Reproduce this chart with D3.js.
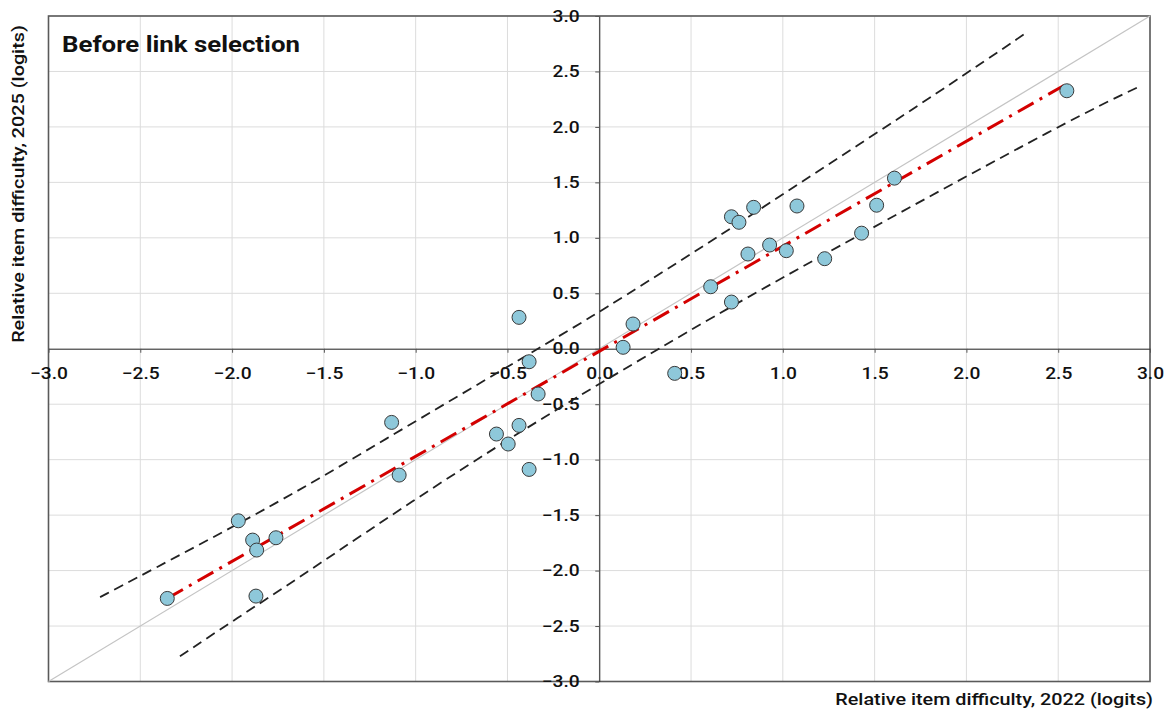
<!DOCTYPE html>
<html>
<head>
<meta charset="utf-8">
<script src="https://cdn.jsdelivr.net/npm/d3@7"></script>
<style>
  html, body { margin: 0; padding: 0; background: #fff; }
  svg { display: block; font-family: Roboto, "Noto Sans", sans-serif; }
</style>
</head>
<body>
<svg id="chart" width="1172" height="715"></svg>
<script>
// Relative item difficulty of link items, 2022 vs 2025 (logits)
const x2022 = [-2.353, -1.966, -1.888, -1.866, -1.761, -1.870, -1.131, -1.090,
  -0.560, -0.496, -0.437, -0.437, -0.382, -0.382, -0.333, 0.130, 0.184, 0.411,
  0.607, 0.720, 0.720, 0.761, 0.810, 0.841, 0.928, 1.019, 1.077, 1.228, 1.429,
  1.511, 1.608, 2.547];
const y2025 = [-2.251, -1.551, -1.725, -1.815, -1.704, -2.230, -0.664, -1.139,
  -0.769, -0.859, -0.691, 0.283, -0.117, -1.088, -0.408, 0.013, 0.223, -0.222,
  0.559, 0.421, 1.190, 1.140, 0.854, 1.275, 0.935, 0.884, 1.287, 0.812, 1.042,
  1.294, 1.538, 2.326];

// Fitted trend line (end points)
const fitX = [-2.353, 2.547];
const fitY = [-2.251, 2.389];

// Upper and lower confidence bands
const upperX = [-2.719, -2.501, -1.721, -1.249, -0.224, 0.003, 0.493, 1.037, 1.908, 2.322];
const upperY = [-2.239, -2.050, -1.364, -0.898, 0.108, 0.334, 0.845, 1.431, 2.378, 2.844];
const lowerX = [-2.284, -1.975, -1.640, -0.905, -0.224, 0.021, 0.602, 1.364, 2.579, 2.933];
const lowerY = [-2.773, -2.431, -2.070, -1.244, -0.537, -0.298, 0.274, 0.980, 2.078, 2.357];

// Identity line and tick values
const identity = [-3, 3];
const tickValues = [-3.0, -2.5, -2.0, -1.5, -1.0, -0.5, 0.0, 0.5, 1.0, 1.5, 2.0, 2.5, 3.0];

const title = "Before link selection";
const xTitle = "Relative item difficulty, 2022 (logits)";
const yTitle = "Relative item difficulty, 2025 (logits)";

const svg = d3.select("#chart");
const plotLeft = 48.5, plotRight = 1150, plotTop = 16, plotBottom = 681.5;
const x = d3.scaleLinear().domain([-3, 3]).range([plotLeft, plotRight]);
const y = d3.scaleLinear().domain([-3, 3]).range([plotBottom, plotTop]);
const stretch = 1.2;

// grid
const grid = svg.append("g").attr("stroke", "#dcdcdc").attr("stroke-width", 1);
grid.selectAll(".gx").data(tickValues).join("line").attr("class", "gx")
  .attr("x1", d => x(d)).attr("x2", d => x(d)).attr("y1", plotTop).attr("y2", plotBottom);
grid.selectAll(".gy").data(tickValues).join("line").attr("class", "gy")
  .attr("y1", d => y(d)).attr("y2", d => y(d)).attr("x1", plotLeft).attr("x2", plotRight);

// frame
svg.append("rect").attr("x", plotLeft).attr("y", plotTop)
  .attr("width", plotRight - plotLeft).attr("height", plotBottom - plotTop)
  .attr("fill", "none").attr("stroke", "#5a5a5a").attr("stroke-width", 1.6);

// identity line
svg.append("line")
  .attr("x1", x(identity[0])).attr("y1", y(identity[0]))
  .attr("x2", x(identity[1])).attr("y2", y(identity[1]))
  .attr("stroke", "#c4c4c4").attr("stroke-width", 1.2);

// axes through the origin
const fmt = d3.format(".1f");
const xAxis = svg.append("g").attr("transform", `translate(0,${y(0)})`)
  .call(d3.axisBottom(x).tickValues(tickValues).tickFormat(fmt)
    .tickSize(4).tickSizeOuter(0).tickPadding(15));
const yAxis = svg.append("g").attr("transform", `translate(${x(0)},0)`)
  .call(d3.axisLeft(y).tickValues(tickValues).tickFormat(fmt)
    .tickSize(4).tickSizeOuter(0).tickPadding(12.3));
[xAxis, yAxis].forEach(a => {
  a.select(".domain").attr("stroke", "#333").attr("stroke-width", 1.1);
  a.selectAll(".tick line").attr("stroke", "#555");
  a.selectAll(".tick text")
    .attr("font-family", "Roboto").attr("font-size", 16).attr("font-weight", 500)
    .attr("fill", "#111").attr("transform", `scale(${stretch},1)`);
});

// confidence bands
const band = d3.line().x(d => x(d[0])).y(d => y(d[1])).curve(d3.curveBasis);
[[upperX, upperY], [lowerX, lowerY]].forEach(([bx, by]) => {
  svg.append("path").attr("d", band(bx.map((v, i) => [v, by[i]])))
    .attr("fill", "none").attr("stroke", "#222").attr("stroke-width", 1.8)
    .attr("stroke-dasharray", "10,6");
});

// trend line
svg.append("path")
  .attr("d", d3.line().x(d => x(d[0])).y(d => y(d[1]))(fitX.map((v, i) => [v, fitY[i]])))
  .attr("fill", "none").attr("stroke", "#d40000").attr("stroke-width", 3)
  .attr("stroke-dasharray", "18,7,3,7");

// points
svg.append("g").selectAll("circle").data(x2022.map((v, i) => [v, y2025[i]])).join("circle")
  .attr("cx", d => x(d[0])).attr("cy", d => y(d[1])).attr("r", 7)
  .attr("fill", "#8ec8da").attr("stroke", "#3a3a3a").attr("stroke-width", 1);

// titles
svg.append("text").attr("transform", `translate(62,52) scale(${stretch},1)`)
  .attr("font-size", 21.5).attr("font-weight", 700).attr("fill", "#111").text(title);
svg.append("text").attr("transform", `translate(1153,705) scale(${stretch},1)`)
  .attr("text-anchor", "end").attr("font-size", 16.5).attr("font-weight", 500)
  .attr("fill", "#111").text(xTitle);
svg.append("text").attr("transform", `translate(24,184) rotate(-90) scale(${stretch},1)`)
  .attr("text-anchor", "middle").attr("font-size", 16.5).attr("font-weight", 500)
  .attr("fill", "#111").text(yTitle);
</script>
</body>
</html>
